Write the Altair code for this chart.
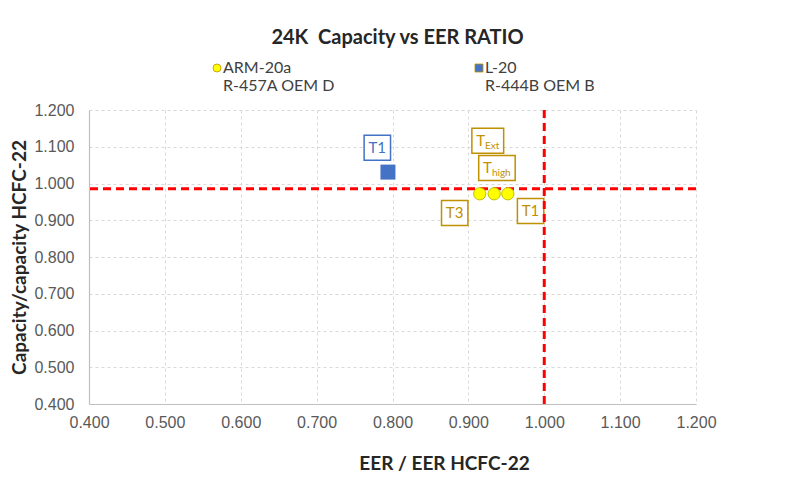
import altair as alt
import pandas as pd

# ---------------- data ----------------
series_names = ["ARM-20a", "L-20"]
series_sub = ["R-457A OEM D", "R-444B OEM B"]
series_fill = ["#FFFF00", "#4472C4"]
series_shape = ["circle", "square"]

arm_eer = [0.915, 0.934, 0.952]
arm_cap = [0.972, 0.972, 0.972]
l20_eer = [0.794]
l20_cap = [1.031]

ref_cap = [0.986]   # horizontal red dashed line
ref_eer = [1.000]   # vertical red dashed line

label_series = ["L-20", "ARM-20a", "ARM-20a", "ARM-20a", "ARM-20a"]
label_main = ["T", "T", "T", "T", "T"]
label_suffix = ["1", "Ext", "high", "3", "1"]
label_is_sub = [False, True, True, False, False]
label_eer = [0.780, 0.922, 0.931, 0.882, 0.982]
label_cap = [1.097, 1.116, 1.042, 0.920, 0.925]

x_ticks = [0.4, 0.5, 0.6, 0.7, 0.8, 0.9, 1.0, 1.1, 1.2]
y_ticks = [0.4, 0.5, 0.6, 0.7, 0.8, 0.9, 1.0, 1.1, 1.2]

title_text = "24K\u00a0 Capacity vs EER RATIO"
x_title = "EER / EER HCFC-22"
y_title = "Capacity/capacity HCFC-22"

# ---------------- tables ----------------
pts = pd.DataFrame({
    "series": ["ARM-20a"] * len(arm_eer) + ["L-20"] * len(l20_eer),
    "eer": arm_eer + l20_eer,
    "cap": arm_cap + l20_cap,
})

W_MAIN, W_SUB, PAD = 8.7, 4.7, 4.5
paths = []
for suf, sub in zip(label_suffix, label_is_sub):
    left = W_MAIN + PAD
    right = (W_SUB if sub else W_MAIN) * len(suf) + PAD
    paths.append(f"M{-left},-12.5H{right}V12.5H{-left}Z")

lab = pd.DataFrame({
    "series": label_series,
    "main": label_main,
    "suffix": label_suffix,
    "is_sub": label_is_sub,
    "eer": label_eer,
    "cap": label_cap,
    "path": paths,
})

hline = pd.DataFrame({"cap": ref_cap})
vline = pd.DataFrame({"eer": ref_eer})

# ---------------- encodings ----------------
GOLD, BLUE = "#BF9000", "#4472C4"
is_blue = f"datum.series == '{series_names[1]}'"

x_enc = alt.X("eer:Q",
              scale=alt.Scale(domain=[0.4, 1.2], nice=False, zero=False),
              axis=alt.Axis(values=x_ticks, format=".3f", title=x_title,
                            titleX=355, titleY=59, titleAlign="center", titleBaseline="middle",
                            labelPadding=10, labelFlush=False, labelOverlap=False))
y_enc = alt.Y("cap:Q",
              scale=alt.Scale(domain=[0.4, 1.2], nice=False, zero=False),
              axis=alt.Axis(values=y_ticks, format=".3f", title=y_title,
                            titleX=-70, titleY=147, titleAngle=270,
                            titleAlign="center", titleBaseline="middle",
                            labelPadding=15, labelFlush=False, labelOverlap=False))

labels_expr = "datum.label == '{0}' ? ['{0}', '{1}'] : ['{2}', '{3}']".format(
    series_names[0], series_sub[0], series_names[1], series_sub[1])

legend = alt.Legend(title=None, orient="none", direction="horizontal", columns=2,
                    legendX=120, legendY=-50, columnPadding=136,
                    labelExpr=labels_expr, symbolSize=64, labelOffset=alt.ExprRef(expr="-2"),
                    symbolStrokeColor="#BFBF00", symbolStrokeWidth=0.8)

color_enc = alt.Color("series:N", scale=alt.Scale(domain=series_names, range=series_fill), legend=legend)
shape_enc = alt.Shape("series:N", scale=alt.Scale(domain=series_names, range=series_shape), legend=legend)

lab_col = alt.condition(is_blue, alt.value(BLUE), alt.value(GOLD))

boxes = alt.Chart(lab).mark_point(filled=False, size=4, strokeWidth=1.5, fill="white",
                                  fillOpacity=1, opacity=1).encode(
    x=x_enc, y=y_enc,
    shape=alt.Shape("path:N", scale=None),
    stroke=lab_col,
)

main_txt = alt.Chart(lab).mark_text(align="right", baseline="middle", fontSize=15,
                                    font="Lato").encode(
    x=x_enc, y=y_enc, text="main:N", fill=lab_col)

suf_txt = alt.Chart(lab).transform_filter("!datum.is_sub").mark_text(
    align="left", baseline="middle", fontSize=15, font="Lato").encode(
    x=x_enc, y=y_enc, text="suffix:N", fill=lab_col)

sub_txt = alt.Chart(lab).transform_filter("datum.is_sub").mark_text(
    align="left", baseline="middle", fontSize=10, dy=5, font="Lato").encode(
    x=x_enc, y=y_enc, text="suffix:N", fill=lab_col)

h_rule = alt.Chart(hline).mark_rule(color="#FF0000", strokeWidth=3, strokeDash=[8, 5]).encode(y=y_enc)
v_rule = alt.Chart(vline).mark_rule(color="#FF0000", strokeWidth=3, strokeDash=[8, 5]).encode(x=x_enc)

arm_pts = alt.Chart(pts).transform_filter(f"datum.series == '{series_names[0]}'").mark_point(
    filled=True, opacity=1, size=150, stroke="#BFBF00", strokeWidth=1).encode(
    x=x_enc, y=y_enc, color=color_enc, shape=shape_enc)

l20_pts = alt.Chart(pts).transform_filter(is_blue).mark_point(
    filled=True, opacity=1, size=225).encode(
    x=x_enc, y=y_enc, color=color_enc, shape=shape_enc)

chart = alt.layer(boxes, main_txt, suf_txt, sub_txt, h_rule, v_rule, arm_pts, l20_pts).properties(
    width=607, height=294,
    title=alt.Title(title_text, anchor="middle", dx=5, offset=12),
    autosize=alt.AutoSizeParams(type="none"),
    padding={"left": 81, "top": 102, "right": 81, "bottom": 91},
).configure_view(stroke=None).configure_axis(
    grid=True, gridColor="#d9d9d9", gridDash=[3, 3], gridWidth=1,
    domainColor="#bfbfbf", domainWidth=1.2, ticks=False,
    labelFont="Liberation Sans", labelFontSize=16, labelColor="#595959",
    titleFont="Lato", titleFontSize=19, titleFontWeight="bold", titleColor="#262626",
).configure_title(
    font="Lato", fontSize=20, fontWeight="bold", color="#262626",
).configure_legend(
    labelFont="Lato", labelFontSize=16, labelColor="#404040", padding=0,
)

chart.save("out.html", embed_options={"renderer": "svg", "actions": False})
